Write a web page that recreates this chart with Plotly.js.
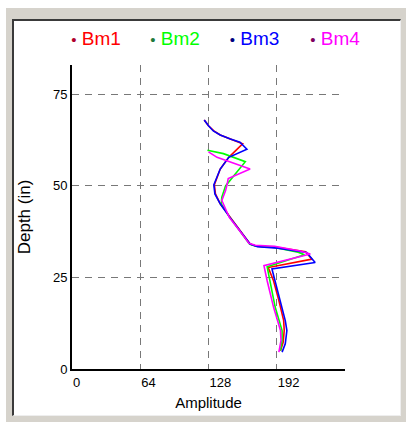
<!DOCTYPE html>
<html>
<head>
<meta charset="utf-8">
<script src="https://cdn.plot.ly/plotly-3.0.1.min.js"></script>
<style>
  html, body { margin: 0; padding: 0; background: #ffffff; }
  #outer { position: absolute; left: 6px; top: 8px; width: 400px; height: 414px; background: #d6d3cc; }
  #inner { position: absolute; left: 12px; top: 19px; width: 386px; height: 394px; background: #ffffff;
           border-top: 2px solid #3a3a3a; border-left: 2px solid #3a3a3a;
           border-right: 1px solid #eeeeee; border-bottom: 1px solid #eeeeee; }
  #chart { position: absolute; left: 0; top: 0; width: 411px; height: 422px; }
</style>
</head>
<body>
<div id="outer"></div>
<div id="inner"></div>
<div id="chart"></div>
<script>
// ---- data (amplitude vs depth) ----
const seriesNames = ["Bm1", "Bm2", "Bm3", "Bm4"];
const lineColors  = ["#ff0000", "#00ff00", "#0000ff", "#ff00ff"];
const dotColors   = ["#b0002a", "#1f7a3a", "#000080", "#800060"];

const bm1Depth = [68.0, 66.4, 65.0, 63.9, 62.8, 61.9, 61.5, 59.5, 57.8, 54.6, 52.3, 50.3, 47.8, 45.1, 41.4, 37.8, 34.1, 33.5, 33.2, 32.0, 30.0, 27.7, 24.1, 18.7, 13.2, 10.5, 7.3, 5.0];
const bm1Amp   = [124, 128, 133, 139, 148.5, 157, 160, 153, 147, 139, 136, 133.5, 134.5, 139, 148.5, 158, 167, 173, 192, 219, 225, 184, 189, 194, 198.5, 199, 198, 195.5];

const bm2Depth = [59.7, 58.8, 56.6, 53.3, 50.9, 50.0, 46.9, 45.1, 41.4, 37.8, 34.1, 33.6, 33.2, 31.9, 31.2, 27.9, 23.2, 16.9, 10.5, 7.8, 5.0];
const bm2Amp   = [127, 142, 162.5, 153, 146.5, 144, 140.5, 140, 148, 157, 166.5, 172, 190, 212, 218, 183, 186, 190.5, 197, 197, 195.5];

const bm3Depth = [68.0, 66.4, 65.0, 63.9, 62.8, 61.9, 60.0, 57.8, 54.6, 52.3, 50.3, 47.8, 45.1, 41.4, 37.8, 34.1, 33.4, 33.0, 31.8, 29.1, 27.3, 24.1, 18.7, 13.2, 10.5, 6.9, 4.6];
const bm3Amp   = [124, 128, 132.5, 139, 148.5, 157.5, 164, 147, 139, 135.5, 133, 134, 139, 148, 157.5, 167, 174, 193, 220, 228, 187.5, 190.5, 195.5, 200, 201.5, 200, 197];

const bm4Depth = [59.3, 57.8, 54.6, 52.8, 52.0, 50.5, 48.7, 46.0, 41.4, 37.8, 34.3, 33.8, 33.5, 32.2, 31.4, 28.2, 24.1, 16.9, 10.5, 7.8, 4.6];
const bm4Amp   = [128, 136, 167, 151.5, 146.5, 145.5, 144, 140.5, 147.5, 157, 166, 172, 190, 214, 223.5, 180, 183, 189, 195.5, 196, 194];

const xTickVals = [0, 64, 128, 192];
const xTickText = ["0", "64", "128", "192"];
const yTickVals = [0, 25, 50, 75];
const yTickText = ["0", "25", "50", "75"];

const depths = [bm1Depth, bm2Depth, bm3Depth, bm4Depth];
const amps   = [bm1Amp, bm2Amp, bm3Amp, bm4Amp];

const FONT = "Liberation Sans, Arial, sans-serif";
const legendIds = ["legend", "legend2", "legend3", "legend4"];
const legendX   = [-0.149, 0.1403, 0.4315, 0.7264];

const traces = [];
for (let i = 0; i < seriesNames.length; i++) {
  traces.push({
    x: amps[i], y: depths[i], type: "scatter", mode: "lines",
    line: { color: lineColors[i], width: 1.6 },
    name: seriesNames[i], showlegend: false, hoverinfo: "skip"
  });
}
// legend entries (dot + coloured label), one small legend per series
for (let i = 0; i < seriesNames.length; i++) {
  traces.push({
    x: [null], y: [null], type: "scatter", mode: "none",
    legend: legendIds[i],
    name: '<span style="font-size:15px;color:' + dotColors[i] + '">\u2022</span> <span style="color:' + lineColors[i] + '">' + seriesNames[i] + '</span>',
    showlegend: true, hoverinfo: "skip"
  });
}

const layout = {
  width: 411, height: 422,
  margin: { l: 72, r: 66, t: 65, b: 53, pad: 0 },
  paper_bgcolor: "rgba(0,0,0,0)",
  plot_bgcolor: "rgba(0,0,0,0)",
  font: { family: FONT, size: 13, color: "#000000" },
  showlegend: true,
  xaxis: {
    range: [0, 256], tickmode: "array", tickvals: xTickVals, ticktext: xTickText,
    ticks: "", ticklabelposition: "outside right",
    showline: true, linecolor: "#000000", linewidth: 2,
    showgrid: true, gridcolor: "#787878", gridwidth: 1, griddash: "7px,6px",
    zeroline: false, fixedrange: true,
    tickfont: { family: FONT, size: 13, color: "#000" },
    title: { text: "Amplitude", font: { family: FONT, size: 15, color: "#000" }, standoff: 9 }
  },
  yaxis: {
    range: [0, 83], tickmode: "array", tickvals: yTickVals, ticktext: yTickText,
    ticks: "",
    showline: true, linecolor: "#000000", linewidth: 2,
    showgrid: true, gridcolor: "#787878", gridwidth: 1, griddash: "7px,6px",
    zeroline: false, fixedrange: true,
    tickfont: { family: FONT, size: 13, color: "#000" },
    title: { text: "Depth (in)", font: { family: FONT, size: 17, color: "#000" }, standoff: 18 }
  }
};
for (let i = 0; i < legendIds.length; i++) {
  layout[legendIds[i]] = {
    orientation: "h", x: legendX[i], xanchor: "left", y: 1.151, yanchor: "top",
    font: { family: FONT, size: 19 },
    itemwidth: 30, bgcolor: "rgba(0,0,0,0)", borderwidth: 0
  };
}

Plotly.newPlot("chart", traces, layout, { staticPlot: true, displayModeBar: false });
</script>
</body>
</html>
